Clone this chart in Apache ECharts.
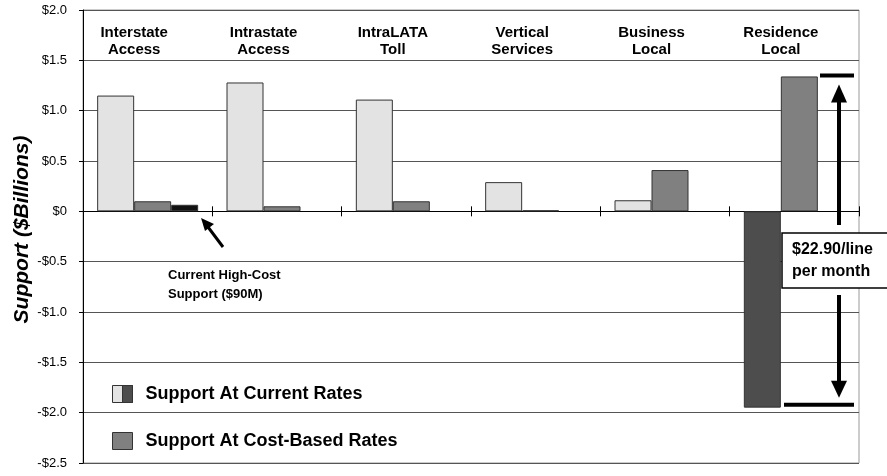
<!DOCTYPE html>
<html>
<head>
<meta charset="utf-8">
<script src="https://cdn.jsdelivr.net/npm/echarts@6/dist/echarts.min.js"></script>
<style>
html, body { margin: 0; padding: 0; background: #fff; }
#chart { width: 887px; height: 476px; }
</style>
</head>
<body>
<div id="chart"></div>
<script>
var categories = ['Interstate\nAccess', 'Intrastate\nAccess', 'IntraLATA\nToll', 'Vertical\nServices', 'Business\nLocal', 'Residence\nLocal'];
var currentRates = [1.15, 1.28, 1.11, 0.29, 0.11, -1.95];
var costBasedRates = [0.10, 0.05, 0.10, 0.01, 0.41, 1.34];
var highCostSupport = [0.065, null, null, null, null, null];

var FONT = '"Liberation Sans", Arial, sans-serif';
var LIGHT = '#e3e3e3', DARK = '#4d4d4d', MID = '#808080';

var chart = echarts.init(document.getElementById('chart'));

function moneyLabel(v) {
	if (v === 0) return '$0';
	return (v < 0 ? '-' : '') + '$' + Math.abs(v).toFixed(1);
}

// negative current-rate bars are drawn dark
var currentData = currentRates.map(function (v) {
	return { value: v, itemStyle: { color: v < 0 ? DARK : LIGHT } };
});

var option = {
	animation: false,
	backgroundColor: '#fff',
	textStyle: { fontFamily: FONT },
	grid: {
		left: 83, right: 28, top: 10, bottom: 13,
		outerBoundsMode: 'none',
		containLabel: false,
		show: true, borderColor: '#999', borderWidth: 1, backgroundColor: 'transparent'
	},
	legend: {
		orient: 'vertical',
		left: 112, top: 385,
		padding: 0,
		icon: 'rect',
		itemWidth: 20, itemHeight: 17,
		itemGap: 29,
		data: [
			{ name: 'Support At Current Rates', itemStyle: { color: LIGHT, borderColor: '#333', borderWidth: 1 } },
			{ name: 'Support At Cost-Based Rates', itemStyle: { color: MID, borderColor: '#333', borderWidth: 1 } }
		],
		textStyle: { fontFamily: FONT, fontWeight: 'bold', fontSize: 18, color: '#000', padding: [0, 0, 0, 8] },
		selectedMode: false
	},
	xAxis: [{
		// zero line, ticks pointing down
		type: 'category',
		data: categories,
		position: 'bottom',
		axisLine: { onZero: true, onZeroAxisIndex: 0, lineStyle: { color: '#000', width: 1 } },
		axisTick: { show: true, length: 5, lineStyle: { color: '#000' } },
		axisLabel: { show: false },
		splitLine: { show: false }
	}, {
		// zero line, ticks pointing up
		type: 'category',
		data: categories,
		position: 'top',
		axisLine: { onZero: true, onZeroAxisIndex: 1, lineStyle: { color: '#000', width: 1 } },
		axisTick: { show: true, length: 5, lineStyle: { color: '#000' } },
		axisLabel: { show: false }
	}, {
		// category names inside top of plot
		type: 'category',
		data: categories,
		position: 'top',
		axisLine: { show: false, onZero: false },
		axisTick: { show: false },
		axisLabel: {
			inside: true, margin: 14,
			fontFamily: FONT, fontWeight: 'bold', fontSize: 15, lineHeight: 17, color: '#000',
			padding: [0, 27, 0, 0]
		}
	}],
	yAxis: [{
		type: 'value',
		min: -2.5, max: 2.0, interval: 0.5,
		name: 'Support ($Billions)',
		nameLocation: 'middle',
		nameGap: 50,
		nameMoveOverlap: false,
		nameTextStyle: { fontFamily: FONT, fontWeight: 'bold', fontStyle: 'italic', fontSize: 21, color: '#000', padding: [0, 0, 0, 14] },
		axisLine: { show: true, lineStyle: { color: '#000' } },
		axisTick: { show: true, length: 4, lineStyle: { color: '#000' } },
		axisLabel: { formatter: moneyLabel, fontFamily: FONT, fontSize: 13, color: '#000', margin: 16 },
		splitLine: { show: true, lineStyle: { color: '#555', width: 1 } }
	}, {
		// twin axis so the second zero line can sit on it
		type: 'value',
		min: -2.5, max: 2.0, interval: 0.5,
		position: 'left',
		axisLine: { show: false },
		axisTick: { show: false },
		axisLabel: { show: false },
		splitLine: { show: false }
	}],
	series: [{
		name: 'Support At Current Rates',
		type: 'bar',
		barWidth: 37,
		barGap: '0%',
		data: currentData,
		itemStyle: { color: LIGHT, borderColor: '#333', borderWidth: 1 }
	}, {
		name: 'Support At Cost-Based Rates',
		type: 'bar',
		barWidth: 37,
		barGap: '0%',
		data: costBasedRates,
		itemStyle: { color: MID, borderColor: '#333', borderWidth: 1 }
	}, {
		name: 'Current High-Cost Support',
		type: 'bar',
		barWidth: 27,
		barGap: '0%',
		data: highCostSupport,
		itemStyle: { color: '#111', borderColor: '#333', borderWidth: 1 }
	}]
};

chart.setOption(option);

// annotations placed from the Residence Local values
var yTop = chart.convertToPixel({ yAxisIndex: 0 }, costBasedRates[5]);
var yBot = chart.convertToPixel({ yAxisIndex: 0 }, currentRates[5]);
var arrowX = 839;
var boxTop = 233, boxBottom = 288;

chart.setOption({
	graphic: [
		// legend icon: dark half of the current-rates swatch
		{ type: 'rect', shape: { x: 122.5, y: 385.5, width: 10, height: 17 }, style: { fill: DARK, stroke: '#333', lineWidth: 1 }, z: 100 },
		// high-cost note
		{ type: 'text', left: 168, top: 266, style: { text: 'Current High-Cost\nSupport ($90M)', font: 'bold 13px ' + FONT, fill: '#000', lineHeight: 19 }, z: 100 },
		{ type: 'line', shape: { x1: 223, y1: 247, x2: 208, y2: 227 }, style: { stroke: '#000', lineWidth: 3 }, z: 100 },
		{ type: 'polygon', shape: { points: [[201, 218], [214, 224], [205, 231]] }, style: { fill: '#000' }, z: 100 },
		// bracket for residence spread
		{ type: 'line', shape: { x1: 820, y1: yTop - 1, x2: 854, y2: yTop - 1 }, style: { stroke: '#000', lineWidth: 4 }, z: 100 },
		{ type: 'line', shape: { x1: 784, y1: yBot - 3, x2: 854, y2: yBot - 3 }, style: { stroke: '#000', lineWidth: 4 }, z: 100 },
		{ type: 'line', shape: { x1: arrowX, y1: yTop + 20, x2: arrowX, y2: boxTop - 8 }, style: { stroke: '#000', lineWidth: 4 }, z: 100 },
		{ type: 'polygon', shape: { points: [[arrowX, yTop + 8], [arrowX - 8, yTop + 26], [arrowX + 8, yTop + 26]] }, style: { fill: '#000' }, z: 100 },
		{ type: 'line', shape: { x1: arrowX, y1: boxBottom + 7, x2: arrowX, y2: yBot - 24 }, style: { stroke: '#000', lineWidth: 4 }, z: 100 },
		{ type: 'polygon', shape: { points: [[arrowX, yBot - 10], [arrowX - 8, yBot - 27], [arrowX + 8, yBot - 27]] }, style: { fill: '#000' }, z: 100 },
		{ type: 'rect', shape: { x: 782, y: boxTop, width: 112, height: boxBottom - boxTop }, style: { fill: '#fff', stroke: '#000', lineWidth: 1.5 }, z: 100 },
		{ type: 'text', left: 792, top: 239, style: { text: '$22.90/line\nper month', font: 'bold 16px ' + FONT, fill: '#000', lineHeight: 22 }, z: 101 }
	]
});
</script>
</body>
</html>
